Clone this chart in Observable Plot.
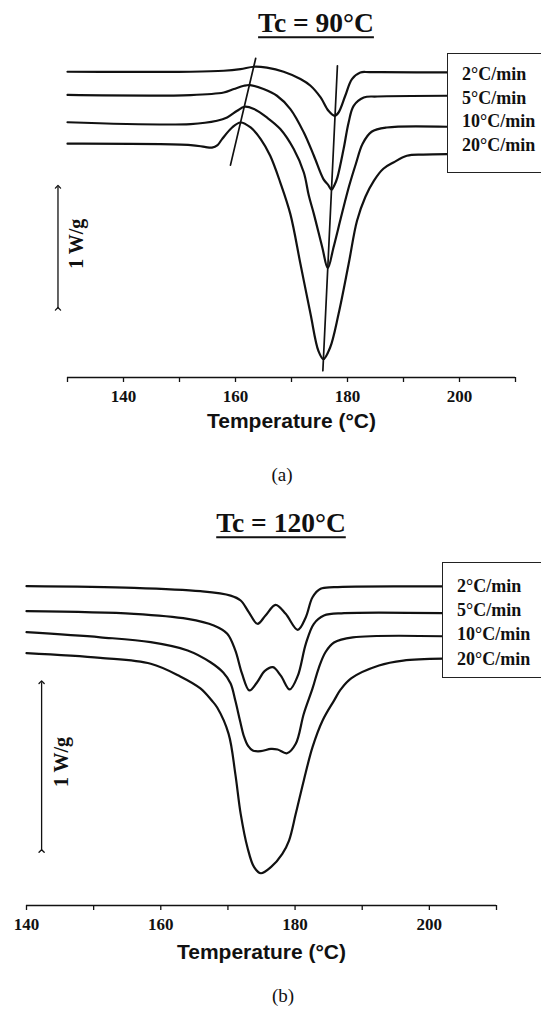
<!DOCTYPE html>
<html><head><meta charset="utf-8">
<script src="https://cdn.jsdelivr.net/npm/d3@7"></script>
<script src="https://cdn.jsdelivr.net/npm/@observablehq/plot@0.6"></script>
<style>
html,body{margin:0;padding:0;background:#fff;overflow:hidden;}
#wrap{position:relative;width:541px;height:1011px;overflow:hidden;background:#fff;color:#111;}
.c{position:absolute;white-space:nowrap;line-height:1;transform:translate(-50%,-50%);color:#111;}
.title{font-family:'Liberation Serif','Times New Roman',serif;font-weight:bold;font-size:27.5px;text-decoration:underline;text-decoration-thickness:2px;text-underline-offset:4px;}
.cap{font-family:'Liberation Serif','Times New Roman',serif;font-size:19px;}
.legend{position:absolute;border:1px solid #222;width:200px;box-sizing:border-box;background:#fff;font-family:'Liberation Serif','Times New Roman',serif;font-weight:bold;font-size:18px;color:#111;}
</style></head>
<body><div id="wrap"></div>
<script>
// Series names
const rates = ["2°C/min", "5°C/min", "10°C/min", "20°C/min"];
const titles = ["Tc = 90°C", "Tc = 120°C"];
const captions = ["(a)", "(b)"];
const xLabel = "Temperature (°C)";
const tickLabelsA = [140, 160, 180, 200];
const tickLabelsB = [140, 160, 180, 200];

// Panel (a) Tc = 90°C : [temperature °C, heat flow W/g (stacked, endo down)]
const a2 = [[130,2.506],[152,2.506],[157.9,2.514],[160.9,2.528],[163.3,2.547],[165.6,2.539],[168.6,2.506],[171.6,2.446],[173.4,2.391],[175.2,2.295],[176.6,2.186],[177.7,2.145],[178.4,2.172],[179.6,2.309],[180.8,2.446],[182.3,2.500],[184,2.503],[197.8,2.500]];
const a5 = [[130,2.316],[152,2.315],[157.9,2.336],[159.7,2.364],[161.5,2.391],[162.6,2.397],[165,2.364],[167.4,2.309],[169.8,2.200],[172.2,2.008],[174,1.817],[175.7,1.626],[176.6,1.575],[177.15,1.539],[177.7,1.580],[178.2,1.640],[179.3,1.872],[180.2,2.090],[181.1,2.227],[182.9,2.295],[185.3,2.303],[197.8,2.309]];
const a10 = [[130,2.092],[152,2.077],[156.7,2.104],[158.5,2.131],[160.3,2.186],[161.6,2.219],[163.3,2.200],[165.6,2.131],[168,2.036],[170.4,1.872],[172.2,1.680],[173.1,1.489],[174,1.339],[175.5,1.066],[176.48,0.897],[177.5,1.066],[179,1.342],[180.3,1.571],[181.5,1.752],[182.7,1.916],[184.3,2.014],[187,2.049],[197.8,2.055]];
const a20 = [[130,1.916],[152,1.905],[154.5,1.890],[155.8,1.884],[156.8,1.905],[157.6,1.954],[159.4,2.049],[160.9,2.090],[162.7,2.049],[164.5,1.954],[166.2,1.817],[168,1.598],[169.8,1.339],[171.6,0.930],[173.4,0.520],[174.8,0.219],[175.7,0.151],[176.9,0.246],[178.4,0.520],[180.2,0.930],[181.7,1.284],[183.2,1.481],[184.7,1.612],[186.4,1.711],[188.2,1.762],[190.6,1.817],[193.5,1.827],[197.8,1.831]];
const peakTangentA = [[163.6,2.615],[159.1,1.741]];
const meltTangentA = [[178.2,2.555],[175.6,0.055]];

// Panel (b) Tc = 120°C
const b2 = [[140,1.892],[156,1.882],[165.9,1.862],[170.4,1.836],[171.9,1.807],[173.1,1.738],[174.4,1.669],[175.6,1.718],[177.1,1.781],[178.6,1.728],[180.4,1.633],[181.6,1.708],[182.6,1.826],[183.8,1.876],[185.8,1.886],[202,1.890]];
const b5 = [[140,1.744],[156,1.728],[164,1.698],[167.9,1.659],[169.9,1.610],[171.1,1.511],[172.1,1.373],[173.2,1.274],[174.3,1.320],[175.5,1.390],[176.7,1.412],[177.9,1.360],[179.2,1.280],[180.4,1.360],[181.6,1.550],[182.8,1.669],[184.3,1.718],[187.3,1.732],[202,1.732]];
const b10 = [[140,1.619],[151,1.589],[158.5,1.560],[164,1.511],[167.4,1.441],[169.3,1.380],[170.4,1.315],[171.1,1.214],[171.8,1.095],[172.4,1.000],[173.0,0.945],[173.7,0.918],[174.9,0.914],[176.4,0.928],[177.4,0.924],[178.8,0.902],[180.1,0.958],[181.3,1.136],[182.6,1.286],[183.5,1.404],[184.5,1.499],[185.8,1.558],[188.6,1.588],[202,1.595]];
const b20 = [[140,1.495],[151,1.467],[158.5,1.432],[162.9,1.357],[165.9,1.286],[167.6,1.214],[168.4,1.173],[170.1,1.017],[171.1,0.780],[171.9,0.543],[172.9,0.345],[173.9,0.227],[174.9,0.191],[176.4,0.227],[178.1,0.306],[179.1,0.385],[180.1,0.543],[181.3,0.741],[182.6,0.938],[184.1,1.096],[185.8,1.214],[186.8,1.280],[188.4,1.347],[192.5,1.422],[196.1,1.451],[202,1.462]];

// Scale-bar annotations (1 W/g)
const scaleBarA = {T: 128.3, from: 0.563, to: 1.563, labelT: 131.6, labelV: 1.096, text: "1 W/g"};
const scaleBarB = {T: 142.25, from: 0.323, to: 1.323, labelT: 145.3, labelV: 0.85, text: "1 W/g"};

const serif = "'Liberation Serif','Times New Roman',serif";
const sans = "'Liberation Sans',Arial,sans-serif";
const ink = "#111";

function table(series) {
  return series.flatMap((s, i) => s.map(([T, v]) => ({T, v, rate: rates[i]})));
}
function seg(pts) { return pts.map(([T, v]) => ({T, v})); }

function panel(o) {
  const marks = [
    Plot.ruleY([0], {stroke: ink, strokeWidth: 1.6}),
    Plot.axisX({ticks: o.ticks, tickSize: 5, tickPadding: 7, strokeWidth: 1.3,
      tickFormat: d => o.labels.includes(d) ? String(d) : "",
      fontFamily: serif, fontSize: 17, fontWeight: "bold", label: null}),
    Plot.line(table(o.series), {x: "T", y: "v", z: "rate", curve: "catmull-rom", stroke: ink, strokeWidth: 2.2}),
    ...o.tangents.map(t => Plot.line(seg(t), {x: "T", y: "v", stroke: ink, strokeWidth: 1.7})),
    Plot.link([o.bar], {x1: "T", x2: "T", y1: "from", y2: "to", stroke: ink, strokeWidth: 1.3, markerStart: "arrow", markerEnd: "arrow"}),
    Plot.text([o.bar], {x: "labelT", y: "labelV", text: "text", rotate: -90, fontFamily: serif, fontSize: 20, fontWeight: "bold", fill: ink}),
    Plot.text([xLabel], {frameAnchor: "bottom", dy: o.labelDy, fontFamily: sans, fontWeight: "bold", fontSize: 21, fill: ink})
  ];
  const svg = Plot.plot({
    width: 541, height: o.height,
    marginLeft: o.ml, marginRight: o.mr, marginTop: o.mt, marginBottom: o.mb,
    x: {domain: o.xDomain},
    y: {domain: o.yDomain, axis: null},
    style: {background: "transparent", color: ink, overflow: "visible"},
    marks
  });
  svg.style.position = "absolute";
  svg.style.left = "0px";
  svg.style.top = o.top + "px";
  return svg;
}

const wrap = document.getElementById("wrap");
wrap.appendChild(panel({top: 45, height: 400, ml: 67, mr: 26, mt: 5, mb: 68, labelDy: 50,
  xDomain: [130, 210], yDomain: [0, 2.68], ticks: d3.range(130, 211, 10), labels: tickLabelsA,
  series: [a2, a5, a10, a20], tangents: [peakTangentA, meltTangentA], bar: scaleBarA}));
wrap.appendChild(panel({top: 560, height: 451, ml: 26, mr: 45, mt: 15, mb: 106, labelDy: 53,
  xDomain: [140, 210], yDomain: [0, 1.955], ticks: d3.range(140, 211, 10), labels: tickLabelsB,
  series: [b2, b5, b10, b20], tangents: [], bar: scaleBarB}));

function addText(cls, txt, x, y) {
  const d = document.createElement("div");
  d.className = "c " + cls;
  d.textContent = txt;
  d.style.left = x + "px";
  d.style.top = y + "px";
  wrap.appendChild(d);
}
addText("title", titles[0], 316, 23);
addText("title", titles[1], 281, 523);
addText("cap", captions[0], 282, 474);
addText("cap", captions[1], 283, 995);

function legend(left, top, height, padTop, lineH) {
  const d = document.createElement("div");
  d.className = "legend";
  d.style.left = left + "px";
  d.style.top = top + "px";
  d.style.height = height + "px";
  d.style.paddingTop = padTop + "px";
  d.style.paddingLeft = "14px";
  d.style.lineHeight = lineH + "px";
  d.innerHTML = rates.map(r => `<div>${r}</div>`).join("");
  wrap.appendChild(d);
}
legend(447, 53, 120, 9, 23.5);
legend(442, 562, 116, 11, 24.2);
</script></body></html>
